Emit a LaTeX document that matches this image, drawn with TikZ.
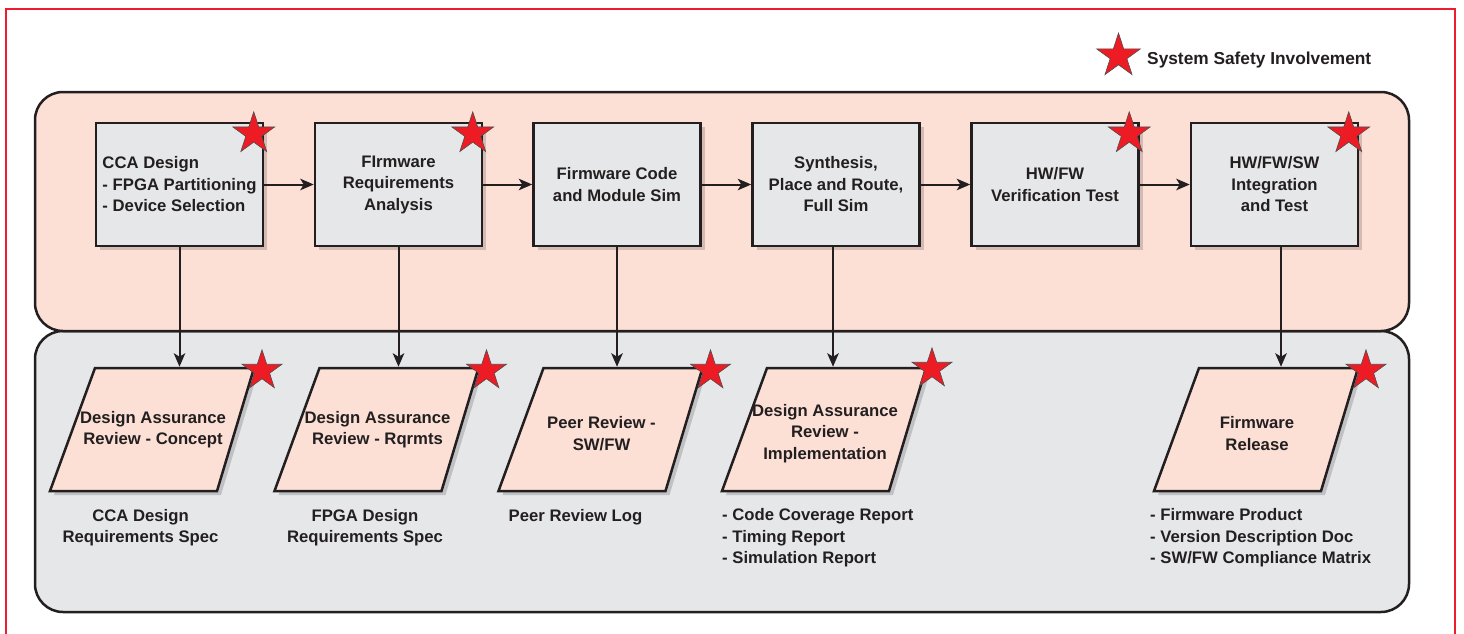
\documentclass[tikz,border=0pt]{standalone}
\usepackage{fontspec}
\setmainfont{Liberation Sans}
\usetikzlibrary{shapes.geometric,arrows.meta,shadows}
\definecolor{pinkfill}{RGB}{252,224,214}
\definecolor{grayfill}{RGB}{230,231,232}
\definecolor{panelgray}{RGB}{230,231,233}
\definecolor{starred}{RGB}{237,28,36}
\definecolor{ink}{RGB}{35,31,32}
\definecolor{borderred}{RGB}{237,28,46}
\begin{document}
\begin{tikzpicture}[x=1pt,y=-1pt,
  font=\fontsize{16.7}{21.5}\selectfont\bfseries,
  every node/.style={text=ink},
  softshadow/.style={drop shadow={shadow xshift=4pt, shadow yshift=-4pt, opacity=0.16, fill=black}},
  stepbox/.style={draw=ink, line width=2.5pt, fill=grayfill, minimum width=167pt,
    minimum height=123pt, inner sep=0pt, align=center, softshadow},
  reviewtext/.style={minimum width=160pt, minimum height=123pt, inner sep=0pt,
    outer sep=1.25pt, align=center},
  reviewshape/.style={draw=ink, line width=2.5pt, fill=pinkfill, line join=miter, softshadow},
  sstar/.style={star, star points=5, star point ratio=2.62, minimum size=44pt,
    inner sep=0pt, fill=starred, draw=ink!80, line width=0.6pt},
  panel/.style={draw=ink, line width=2.5pt, rounded corners=28pt},
  arr/.style={draw=ink, line width=2pt, -{Stealth[length=13.5pt,width=11.5pt,inset=3.5pt]}},
  plain/.style={inner sep=0pt, align=center},
  listtext/.style={inner sep=0pt, align=left, anchor=west}
]
\useasboundingbox (0,0) rectangle (1464,634);
% outer red frame
\draw[borderred, line width=2pt] (6,9) rectangle (1455,660);
% panels
\draw[panel, fill=panelgray] (35,331) rectangle (1409,612);
\draw[panel, fill=pinkfill] (35,92) rectangle (1409,331);

% legend
\node[sstar, minimum size=46pt] (legstar) at (1118.5,56) {};
\node[listtext, font=\fontsize{17.3}{21}\selectfont\bfseries] (legtext) at (1147,60) {System Safety Involvement};

% process boxes
\node[stepbox, align=left] (b1) at (179.5,184.5) {CCA Design\\- FPGA Partitioning\\- Device Selection};
\node[stepbox] (b2) at (398.5,184.5) {FIrmware\\Requirements\\Analysis};
\node[stepbox] (b3) at (617,184.5) {Firmware Code\\and Module Sim};
\node[stepbox] (b4) at (836,184.5) {Synthesis,\\Place and Route,\\Full Sim};
\node[stepbox] (b5) at (1055,184.5) {HW/FW\\Verification Test};
\node[stepbox] (b6) at (1274.5,184.5) {HW/FW/SW\\Integration\\and Test};

% stars on boxes
\node[sstar] (sb1) at ([xshift=-10.5pt,yshift=-12pt]b1.north east) {};
\node[sstar] (sb2) at ([xshift=-10.5pt,yshift=-12pt]b2.north east) {};
\node[sstar] (sb5) at ([xshift=-10.5pt,yshift=-12pt]b5.north east) {};
\node[sstar] (sb6) at ([xshift=-10.5pt,yshift=-12pt]b6.north east) {};

% horizontal arrows
\draw[arr] (b1.east) -- (b2.west);
\draw[arr] (b2.east) -- (b3.west);
\draw[arr] (b3.east) -- (b4.west);
\draw[arr] (b4.east) -- (b5.west);
\draw[arr] (b5.east) -- (b6.west);

% review parallelograms (shape drawn around each named text node)
\foreach \cx in {152,376.5,600.5,824,1256}{
  \draw[reviewshape, shift={(\cx,429.5)}] (-102,61.5) -- (-57,-61.5) -- (102,-61.5) -- (65,61.5) -- cycle;
}
\node[reviewtext] (p1) at (153,429.5) {Design Assurance\\Review - Concept};
\node[reviewtext] (p2) at (377.5,429.5) {Design Assurance\\Review - Rqrmts};
\node[reviewtext] (p3) at (601.5,433.5) {Peer Review -\\SW/FW};
\node[reviewtext] (p4) at (825,433.5) {Design Assurance\\Review -\\Implementation};
\node[reviewtext] (p5) at (1257,433.5) {Firmware\\Release};

% stars on parallelograms
\node[sstar, minimum size=42pt] (sp1) at ([xshift=109pt,yshift=-4pt]p1.north) {};
\node[sstar, minimum size=42pt] (sp2) at ([xshift=109pt,yshift=-4pt]p2.north) {};
\node[sstar, minimum size=42pt] (sp3) at ([xshift=109pt,yshift=0pt]p3.north) {};
\node[sstar, minimum size=42pt] (sp4) at ([xshift=107pt,yshift=2pt]p4.north) {};
\node[sstar, minimum size=42pt] (sp5) at ([xshift=109pt,yshift=0pt]p5.north) {};

% vertical arrows
\draw[arr] (b1.south) -- (b1.south |- p1.north);
\draw[arr] (b2.south) -- (b2.south |- p2.north);
\draw[arr] (b3.south) -- (b3.south |- p2.north);
\draw[arr] ([xshift=-3pt]b4.south) -- ([xshift=-3pt]b4.south |- p1.north);
\draw[arr] ([xshift=6.5pt]b6.south) -- ([xshift=6.5pt]b6.south |- p1.north);

% outputs
\node[plain] (o1) at (140.5,527.5) {CCA Design\\Requirements Spec};
\node[plain] (o2) at (365,527.5) {FPGA Design\\Requirements Spec};
\node[plain] (o3) at (575.5,517) {Peer Review Log};
\node[listtext] (o4) at (722,538) {- Code Coverage Report\\- Timing Report\\- Simulation Report};
\node[listtext] (o5) at (1150,538) {- Firmware Product\\- Version Description Doc\\- SW/FW Compliance Matrix};
\end{tikzpicture}
\end{document}
